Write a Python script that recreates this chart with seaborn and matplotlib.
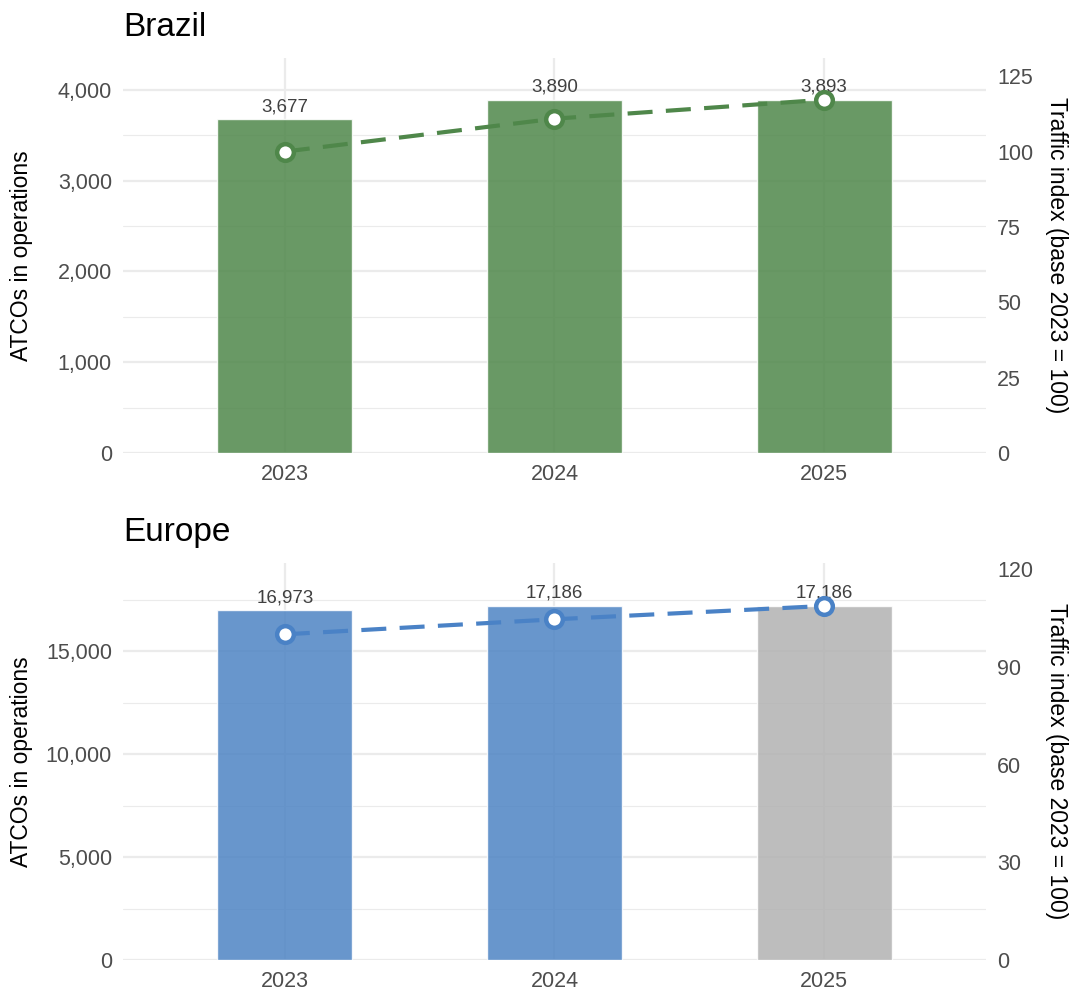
import matplotlib
matplotlib.use("Agg")
import matplotlib.pyplot as plt
from matplotlib.ticker import MultipleLocator, FuncFormatter
import seaborn as sns
import pandas as pd

# ================= data =================
YEARS = ["2023", "2024", "2025"]

BRAZIL_ATCOS = [3677, 3890, 3893]
BRAZIL_INDEX = [100.0, 110.9, 117.2]

EUROPE_ATCOS = [16973, 17186, 17186]
EUROPE_INDEX = [100.0, 104.6, 108.7]

BRAZIL_COLORS = ["#4f874a", "#4f874a", "#4f874a"]
EUROPE_COLORS = ["#4e84c4", "#4e84c4", "#b2b2b2"]

sns.set_theme(style="white")
plt.rcParams["font.family"] = ["Liberation Sans", "DejaVu Sans"]

GRID = "#ebebeb"
TICK = "#4d4d4d"


def draw_panel(ax, title, atcos, index, colors, line_color, ylim, major, minor, sec_ticks):
    df = pd.DataFrame({"year": YEARS, "atcos": atcos, "index": index})

    sns.barplot(data=df, x="year", y="atcos", hue="year", palette=colors,
                width=0.5, alpha=0.85, legend=False, ax=ax, saturation=1)

    for cont, v in zip(ax.containers, atcos):
        ax.bar_label(cont, labels=[f"{v:,}"], padding=3, fontsize=13.5,
                     color="#404040", family=["Liberation Sans Narrow", "Liberation Sans"])

    ax.set_xlim(-0.6, 2.6)
    ax.set_ylim(*ylim)
    ax.yaxis.set_major_locator(MultipleLocator(major))
    ax.yaxis.set_minor_locator(MultipleLocator(minor))
    ax.yaxis.set_major_formatter(FuncFormatter(lambda v, p: f"{int(v):,}"))
    ax.set_axisbelow(True)
    ax.grid(which="major", axis="both", color=GRID, lw=1.6)
    ax.grid(which="minor", axis="y", color=GRID, lw=0.8)
    ax.tick_params(which="both", length=0, labelsize=15.5, labelcolor=TICK, pad=8)
    for s in ax.spines.values():
        s.set_visible(False)
    ax.set_xlabel("")
    ax.set_ylabel("ATCOs in operations", fontsize=16.5, color="black")
    ax.yaxis.set_label_coords(-0.104, 0.5)
    ax.set_title(title, loc="left", fontsize=24, pad=16, color="black")

    # secondary axis: traffic index, scaled so max index meets max bar
    k = max(atcos) / max(index)
    ax2 = ax.twinx()
    sns.pointplot(data=df, x="year", y="index", ax=ax2, color=line_color,
                  markers="o", linestyles="--", markersize=12,
                  markerfacecolor="white", markeredgewidth=3.2, linewidth=3)
    for ln in ax2.lines:
        ln.set_dashes((6, 3.2))
        ln.set_markeredgecolor(line_color)
        ln.set_markerfacecolor("white")
    ax2.set_xlim(-0.6, 2.6)
    ax2.set_ylim(ylim[0] / k, ylim[1] / k)
    ax2.set_yticks(sec_ticks)
    ax2.grid(False)
    ax2.tick_params(length=0, labelsize=15.5, labelcolor=TICK, pad=8)
    for s in ax2.spines.values():
        s.set_visible(False)
    ax2.set_xlabel("")
    ax2.set_ylabel("Traffic index (base 2023 = 100)", fontsize=16.5,
                   rotation=270, color="black", va="center")
    ax2.yaxis.set_label_coords(1.082, 0.5)


fig = plt.figure(figsize=(10.76, 9.96), dpi=100)
ax_b = fig.add_axes([0.1143, 0.5452, 0.802, 0.3966])
ax_e = fig.add_axes([0.1143, 0.0361, 0.802, 0.3986])

draw_panel(ax_b, "Brazil", BRAZIL_ATCOS, BRAZIL_INDEX, BRAZIL_COLORS, "#4f874a",
           (0, 4353), 1000, 500, [0, 25, 50, 75, 100, 125])
draw_panel(ax_e, "Europe", EUROPE_ATCOS, EUROPE_INDEX, EUROPE_COLORS, "#4a82c6",
           (0, 19270), 5000, 2500, [0, 30, 60, 90, 120])

fig.savefig("out.png", dpi=100)
